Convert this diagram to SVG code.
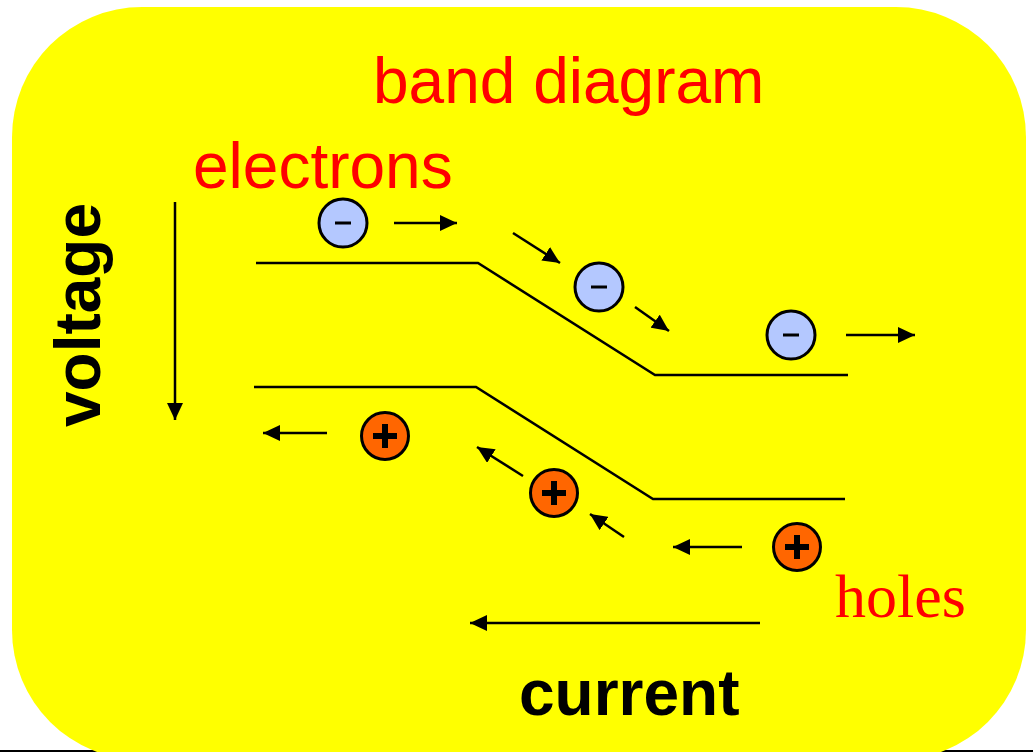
<svg xmlns="http://www.w3.org/2000/svg" width="1033" height="752" viewBox="0 0 1033 752">
<style>
.red{fill:#ff0000;font-family:"Liberation Sans",Arial,sans-serif;font-size:64px}
.blk{fill:#000;font-family:"Liberation Sans",Arial,sans-serif;font-size:64px;font-weight:bold}
.band{fill:none;stroke:#000;stroke-width:2.5}
.arr{stroke:#000;stroke-width:2.5;fill:none;marker-end:url(#ah)}
.e{fill:#b4c8ff;stroke:#000;stroke-width:3}
.h{fill:#ff6600;stroke:#000;stroke-width:3}
.sign{stroke:#000;stroke-linecap:butt}
</style>
<defs>
<marker id="ah" markerUnits="userSpaceOnUse" markerWidth="17" markerHeight="16" refX="17" refY="8" orient="auto">
<path d="M0,0 L17,8 L0,16 z" fill="#000"/>
</marker>
</defs>
<rect width="1033" height="752" fill="#fff"/>
<line x1="0" y1="751" x2="1033" y2="751" stroke="#000" stroke-width="2"/>
<rect id="panel" x="12" y="7" width="1014" height="753" rx="130" ry="130" fill="#ffff00"/>
<g id="title"><text class="red" x="373" y="103">band diagram</text></g>
<g id="electrons-label"><text class="red" x="193" y="188">electrons</text></g>
<g id="holes-label"><text x="835" y="617" fill="#ff0000" font-family="'Liberation Serif','Times New Roman',serif" font-size="62">holes</text></g>
<g id="current-label"><text class="blk" x="519" y="715">current</text></g>
<g id="voltage-label"><text class="blk" transform="translate(100,315) rotate(-90)" text-anchor="middle" x="0" y="0">voltage</text></g>
<g id="bands">
<polyline class="band" points="256,263 478,263 655,375 848,375"/>
<polyline class="band" points="254,387 476,387 653,499 845,499"/>
</g>
<g id="connectors">
<line class="arr" x1="175" y1="202" x2="175" y2="420"/>
<line class="arr" x1="394" y1="223" x2="457" y2="223"/>
<line class="arr" x1="513" y1="233" x2="560" y2="263"/>
<line class="arr" x1="635" y1="307" x2="669" y2="331"/>
<line class="arr" x1="846" y1="335" x2="915" y2="335"/>
<line class="arr" x1="327" y1="433" x2="263" y2="433"/>
<line class="arr" x1="523" y1="476" x2="477" y2="447"/>
<line class="arr" x1="624" y1="537" x2="590" y2="514"/>
<line class="arr" x1="742" y1="547" x2="673" y2="547"/>
<line class="arr" x1="760" y1="623" x2="470" y2="623"/>
</g>
<g id="electron1"><circle class="e" cx="343" cy="223" r="24"/><line class="sign" x1="335" y1="223" x2="351" y2="223" stroke-width="3"/></g>
<g id="electron2"><circle class="e" cx="599" cy="287" r="24"/><line class="sign" x1="591" y1="287" x2="607" y2="287" stroke-width="3"/></g>
<g id="electron3"><circle class="e" cx="791" cy="335" r="24"/><line class="sign" x1="783" y1="335" x2="799" y2="335" stroke-width="3"/></g>
<g id="hole1"><circle class="h" cx="385" cy="436" r="23.5"/><path class="sign" d="M373,436 H397 M385,424 V448" stroke-width="6"/></g>
<g id="hole2"><circle class="h" cx="554" cy="493" r="23.5"/><path class="sign" d="M542,493 H566 M554,481 V505" stroke-width="6"/></g>
<g id="hole3"><circle class="h" cx="797" cy="547" r="23.5"/><path class="sign" d="M785,547 H809 M797,535 V559" stroke-width="6"/></g>
</svg>
